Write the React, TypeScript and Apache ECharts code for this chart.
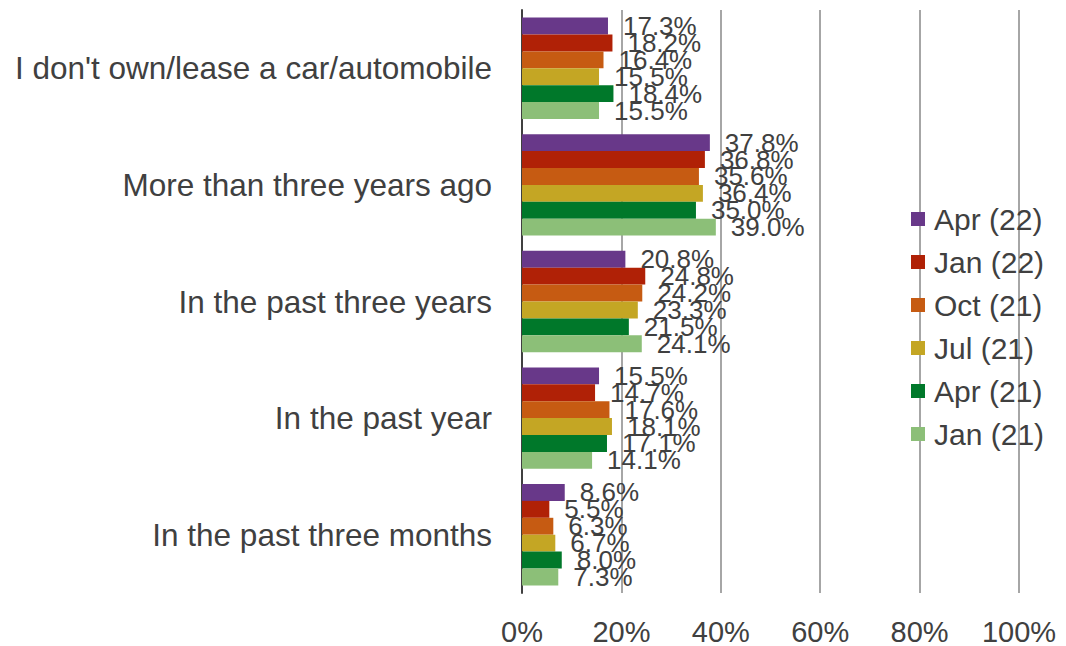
import React, { useEffect, useRef } from "react";
import * as echarts from "echarts";

const categories = [
  "I don't own/lease a car/automobile",
  "More than three years ago",
  "In the past three years",
  "In the past year",
  "In the past three months",
];

const seriesNames = ["Apr (22)", "Jan (22)", "Oct (21)", "Jul (21)", "Apr (21)", "Jan (21)"];

const apr22 = [17.3, 37.8, 20.8, 15.5, 8.6];
const jan22 = [18.2, 36.8, 24.8, 14.7, 5.5];
const oct21 = [16.4, 35.6, 24.2, 17.6, 6.3];
const jul21 = [15.5, 36.4, 23.3, 18.1, 6.7];
const apr21 = [18.4, 35.0, 21.5, 17.1, 8.0];
const jan21 = [15.5, 39.0, 24.1, 14.1, 7.3];

const seriesData = [apr22, jan22, oct21, jul21, apr21, jan21];
const colors = ["#683889", "#B02106", "#C65B12", "#C4A624", "#00782A", "#8CBF78"];

const xTicks = { min: 0, max: 100, interval: 20 };

const TEXT = "#404040";
const FONT = "Liberation Sans, Arial, sans-serif";

export default function App() {
  const ref = useRef<HTMLDivElement>(null);
  useEffect(() => {
    if (!ref.current) return;
    const chart = echarts.init(ref.current, undefined, { renderer: "svg" });
    chart.setOption({
      animation: false,
      color: colors,
      grid: { left: 522, right: 47, top: 10, bottom: 49, containLabel: false },
      legend: {
        orient: "vertical",
        left: 906,
        top: 199,
        itemWidth: 14,
        itemHeight: 14,
        itemGap: 13,
        icon: "rect",
        data: seriesNames,
        textStyle: { color: TEXT, fontSize: 30, fontFamily: FONT, lineHeight: 30, padding: [0, 0, 0, 4] },
      },
      xAxis: {
        type: "value",
        min: xTicks.min,
        max: xTicks.max,
        interval: xTicks.interval,
        axisLine: { show: false },
        axisTick: { show: false },
        axisLabel: {
          formatter: "{value}%",
          color: TEXT,
          fontSize: 29,
          fontFamily: FONT,
          margin: 24,
        },
        splitLine: { show: true, lineStyle: { color: "#a6a6a6", width: 2 } },
      },
      yAxis: {
        type: "category",
        inverse: true,
        data: categories,
        axisLine: { show: true, lineStyle: { color: "#404040", width: 2 } },
        axisTick: { show: false },
        axisLabel: { color: TEXT, fontSize: 31.5, fontFamily: FONT, margin: 30 },
      },
      series: seriesNames.map((name, i) => ({
        name,
        type: "bar",
        data: seriesData[i],
        barGap: "0%",
        barCategoryGap: "13%",
        label: {
          show: true,
          position: "right",
          distance: 15,
          formatter: (p: any) => p.value.toFixed(1) + "%",
          color: TEXT,
          fontSize: 26,
          fontFamily: FONT,
        },
      })),
    });
    return () => chart.dispose();
  }, []);
  return <div ref={ref} style={{ width: 1066, height: 646, position: "absolute", left: 0, top: 0 }} />;
}
